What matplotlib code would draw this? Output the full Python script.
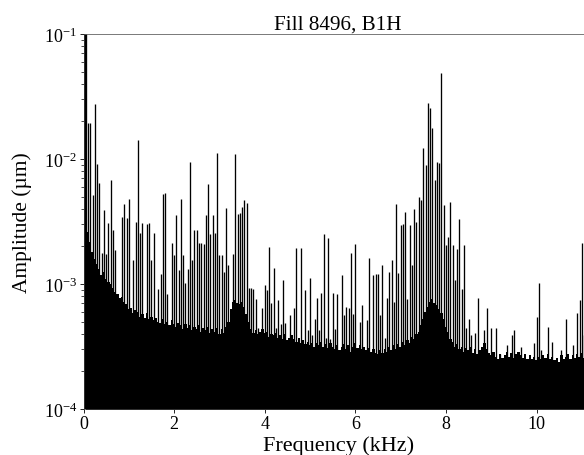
import matplotlib
matplotlib.use("Agg")
import matplotlib.pyplot as plt
import numpy as np

plt.rcParams['font.family'] = ['Liberation Serif', 'DejaVu Serif']
plt.rcParams['mathtext.fontset'] = 'stix'

HARMONIC_KHZ = 0.05
title = "Fill 8496, B1H"
x_label = "Frequency (kHz)"
y_label = "Amplitude (\u00b5m)"
x_ticks = [0, 2, 4, 6, 8, 10]

# harmonic index of each peak and log10 of its amplitude
peak_index = [0, 0.5, 1, 2, 3, 4, 5, 6, 7, 8, 9, 10, 11, 12, 13, 14, 17, 18, 19, 20, 22, 23, 24, 25, 26, 28, 29,
              30, 31, 33, 34, 35, 36, 37, 39, 40, 41, 42, 43, 44, 45, 46, 47, 48, 49, 50, 51, 52, 53,
              54, 55, 56, 57, 58, 59, 60, 61, 62, 63, 64, 66, 67, 68, 69, 70, 71, 72, 73, 74, 75, 76, 77,
              79, 80, 81, 82, 83, 84, 85, 86, 87, 88, 89, 91, 93, 94, 96, 98, 99, 100, 101, 102, 103,
              104, 105, 106, 107, 108, 109, 110, 111, 112, 114, 115, 116, 117, 118, 119, 120, 122, 123,
              125, 126, 128, 129, 130, 131, 132, 133, 134, 135, 136, 137, 138, 139, 140, 141, 142, 143,
              144, 145, 146, 147, 148, 149, 150, 151, 152, 153, 154, 155, 156, 157, 158, 159, 160, 161,
              162, 163, 164, 165, 166, 167, 168, 169, 170, 171, 173, 174, 177, 178, 180, 182, 184, 187,
              189, 190, 193, 199, 200, 201, 202, 205, 207, 211, 213, 216, 218, 219, 220, 221]
peak_log_amp = [-1.00, -1.00, -1.00, -1.71, -1.71, -2.29, -1.56, -2.04, -2.19, -2.75, -2.41, -2.76, -2.51, -2.17, -2.57, -2.73,
                -2.46, -2.36, -2.47, -2.32, -2.81, -2.50, -1.85, -2.59, -2.51, -2.52, -2.51,
                -2.81, -2.59, -3.04, -2.92, -2.28, -2.27, -3.08, -2.67, -2.77, -2.45, -2.89, -2.32, -2.77,
                -2.99, -2.88, -2.02, -2.81, -2.57, -2.57, -2.67, -2.67, -2.68,
                -2.45, -2.20, -2.60, -2.45, -2.59, -1.95, -2.77, -2.77, -2.90, -2.39, -2.85, -2.76, -1.96,
                -2.44, -2.43, -2.38, -2.33, -2.35, -3.03, -3.03, -3.04, -3.12, -3.35,
                -3.19, -3.01, -3.05, -2.70, -3.15, -2.87, -3.35, -3.13, -3.32, -2.97, -3.31, -3.25, -3.19,
                -2.71, -2.71, -3.05, -3.37, -2.95, -3.41, -3.28, -3.11,
                -3.37, -3.07, -2.60, -3.43, -2.63, -3.44, -3.07, -3.36, -3.08, -2.93, -3.25, -3.18, -3.19,
                -2.75, -3.24, -2.68, -3.30, -3.17,
                -3.29, -2.79, -2.93, -2.92, -2.92, -3.25, -2.85, -3.43, -3.11, -2.90, -2.81, -3.14, -2.36,
                -2.91, -2.53, -2.52, -2.42, -3.12,
                -2.53, -2.85, -2.40, -2.50, -2.30, -2.33, -1.91, -2.05, -1.555, -1.59, -1.755, -2.17, -2.02,
                -2.03, -1.31, -2.365, -2.685, -2.62,
                -2.34, -2.685, -2.97, -2.72, -2.48, -3.04, -2.69, -3.35, -3.28, -3.41, -3.39, -3.11, -3.37,
                -3.19, -3.35, -3.35, -3.56, -3.49,
                -3.41, -3.37, -3.50, -3.47, -3.26, -2.99, -3.53, -3.34, -3.46, -3.53, -3.28, -3.49, -3.23,
                -3.13, -2.67, -3.41]

# log10 of the noise floor at harmonic indices 1, 2, 3, ...
floor_log_amp = [-2.50, -2.58, -2.66, -2.74, -2.80, -2.84, -2.88, -2.93, -2.90, -2.96,
                 -2.98, -3.00, -3.03, -3.06, -3.08, -3.11, -3.10, -3.14, -3.16, -3.20,
                 -3.19, -3.23, -3.21, -3.22, -3.26, -3.24, -3.27, -3.23, -3.28, -3.26,
                 -3.29, -3.27, -3.30, -3.31, -3.28, -3.32, -3.30, -3.33, -3.29, -3.32,
                 -3.34, -3.31, -3.33, -3.36, -3.32, -3.35, -3.33, -3.37, -3.34, -3.36,
                 -3.33, -3.38, -3.35, -3.37, -3.34, -3.39, -3.36, -3.38, -3.35, -3.40,
                 -3.36, -3.39, -3.34, -3.30, -3.20, -3.14, -3.13, -3.15, -3.16, -3.14,
                 -3.18, -3.24, -3.30, -3.36, -3.39, -3.37, -3.40, -3.38, -3.36, -3.39,
                 -3.38, -3.42, -3.40, -3.41, -3.39, -3.43, -3.41, -3.44, -3.40, -3.45,
                 -3.43, -3.41, -3.44, -3.46, -3.43, -3.47, -3.45, -3.48, -3.46, -3.49,
                 -3.47, -3.50, -3.47, -3.49, -3.46, -3.50, -3.48, -3.51, -3.47, -3.50,
                 -3.52, -3.49, -3.53, -3.50, -3.48, -3.52, -3.49, -3.54, -3.50, -3.47,
                 -3.51, -3.49, -3.52, -3.50, -3.53, -3.51, -3.54, -3.52, -3.55, -3.56,
                 -3.53, -3.55, -3.52, -3.54, -3.50, -3.53, -3.49, -3.52, -3.48, -3.50,
                 -3.46, -3.49, -3.45, -3.47, -3.42, -3.44, -3.40, -3.38, -3.33, -3.28,
                 -3.22, -3.18, -3.14, -3.12, -3.15, -3.17, -3.20, -3.23, -3.28, -3.34,
                 -3.38, -3.44, -3.46, -3.50, -3.48, -3.52, -3.50, -3.54, -3.51, -3.53,
                 -3.50, -3.55, -3.52, -3.56, -3.53, -3.50, -3.47, -3.52, -3.55, -3.57,
                 -3.54, -3.58, -3.60, -3.56, -3.59, -3.57, -3.54, -3.58, -3.55, -3.59,
                 -3.56, -3.54, -3.57, -3.59, -3.56, -3.60, -3.57, -3.60, -3.58, -3.61,
                 -3.58, -3.60, -3.57, -3.59, -3.56, -3.60, -3.58, -3.61, -3.59, -3.62,
                 -3.57, -3.60, -3.58, -3.56, -3.60, -3.57, -3.59, -3.56, -3.58, -3.55, -3.59, -3.57]

W, H = 584, 456
fig = plt.figure(figsize=(W / 100, H / 100), dpi=100)
# the axes run on past the right edge of the figure, as in the reference
ax = fig.add_axes([83.5 / W, 1 - 410 / H, 509.4 / W, 375 / H])

peak_freq = np.asarray(peak_index) * HARMONIC_KHZ
peak_amp = 10.0 ** np.asarray(peak_log_amp)
floor_freq = (np.arange(len(floor_log_amp)) + 1) * HARMONIC_KHZ
floor_amp = 10.0 ** np.asarray(floor_log_amp)

ax.fill_between(floor_freq, 1e-5, floor_amp, step='mid', color='black', linewidth=0)
ax.vlines(peak_freq, 1e-5, peak_amp, color='black', linewidth=0.95)

ax.set_yscale('log')
ax.set_xlim(0, 11.245)
ax.set_ylim(1e-4, 1e-1)
ax.set_xticks(x_ticks)
ax.tick_params(axis='both', which='major', labelsize=13, length=3, width=0.6, pad=1.5)
ax.tick_params(axis='y', which='minor', length=2, width=0.5)
for s in ax.spines.values():
    s.set_linewidth(0.5)
    s.set_color('#444444')

ax.set_xlabel(x_label, fontsize=16, labelpad=2.5)
ax.set_ylabel(y_label, fontsize=15.4, labelpad=8.5)
ax.set_title(title, fontsize=15.2, pad=3)

fig.savefig("out.png", dpi=100)
